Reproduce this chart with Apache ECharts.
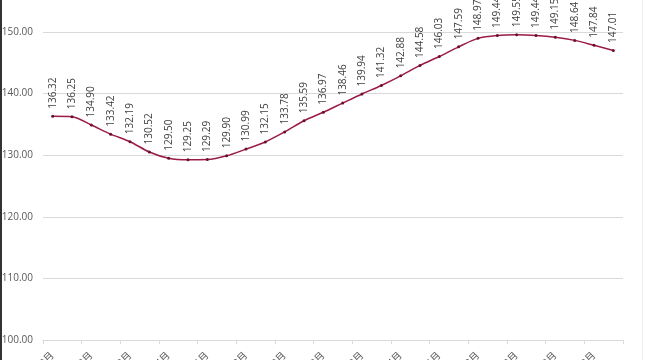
<!DOCTYPE html>
<html>
<head>
<meta charset="utf-8">
<script src="https://cdn.jsdelivr.net/npm/echarts@6/dist/echarts.min.js"></script>
<style>
html,body{margin:0;padding:0;background:#fff;}
#chart{width:650px;height:360px;}
</style>
</head>
<body>
<div id="chart"></div>
<script>
const categories = ["2019年10月","2019年11月","2019年12月","2020年1月","2020年2月","2020年3月","2020年4月","2020年5月","2020年6月","2020年7月","2020年8月","2020年9月","2020年10月","2020年11月","2020年12月","2021年1月","2021年2月","2021年3月","2021年4月","2021年5月","2021年6月","2021年7月","2021年8月","2021年9月","2021年10月","2021年11月","2021年12月","2022年1月","2022年2月","2022年3月"];
const values = [136.32,136.25,134.90,133.42,132.19,130.52,129.50,129.25,129.29,129.90,130.99,132.15,133.78,135.59,136.97,138.46,139.94,141.32,142.88,144.58,146.03,147.59,148.97,149.44,149.55,149.44,149.15,148.64,147.84,147.01];
const yTicks = {min:100, max:150, interval:10};

const chart = echarts.init(document.getElementById('chart'), null, {renderer:'canvas'});
const font = '"Open Sans", "Noto Sans CJK SC", sans-serif';
chart.setOption({
  animation:false,
  backgroundColor:'#fff',
  grid:{left:43, right:27, top:32, bottom:20, containLabel:false, outerBoundsMode:'none'},
  graphic:[
    {type:'rect', shape:{x:0,y:0,width:2,height:360}, style:{fill:'#333'}},
    {type:'rect', shape:{x:642,y:0,width:1,height:360}, style:{fill:'#eeeeee'}}
  ],
  xAxis:{
    type:'category', data:categories, boundaryGap:true,
    axisLine:{show:true, lineStyle:{color:'#d9d9d9', width:1}},
    axisTick:{show:true, interval:1, length:4, lineStyle:{color:'#d9d9d9'}},
    axisLabel:{interval:1, rotate:45, margin:14, color:'#595959', fontSize:10, fontFamily:font}
  },
  yAxis:{
    type:'value', min:yTicks.min, max:yTicks.max, interval:yTicks.interval,
    axisLine:{show:false}, axisTick:{show:false},
    splitLine:{lineStyle:{color:'#d9d9d9', width:1}},
    axisLabel:{formatter:v=>v.toFixed(2), color:'#595959', fontSize:10, fontFamily:font, margin:10}
  },
  series:[{
    type:'line', data:values, smooth:0.3,
    symbol:'circle', symbolSize:3,
    lineStyle:{color:'#9b1b4a', width:1.5},
    itemStyle:{color:'#6b0f30'},
    label:{show:true, position:'top', distance:6, rotate:90, align:'left', verticalAlign:'middle',
      formatter:p=>p.value.toFixed(2), color:'#404040', fontSize:10, fontFamily:font}
  }]
});
</script>
</body>
</html>
